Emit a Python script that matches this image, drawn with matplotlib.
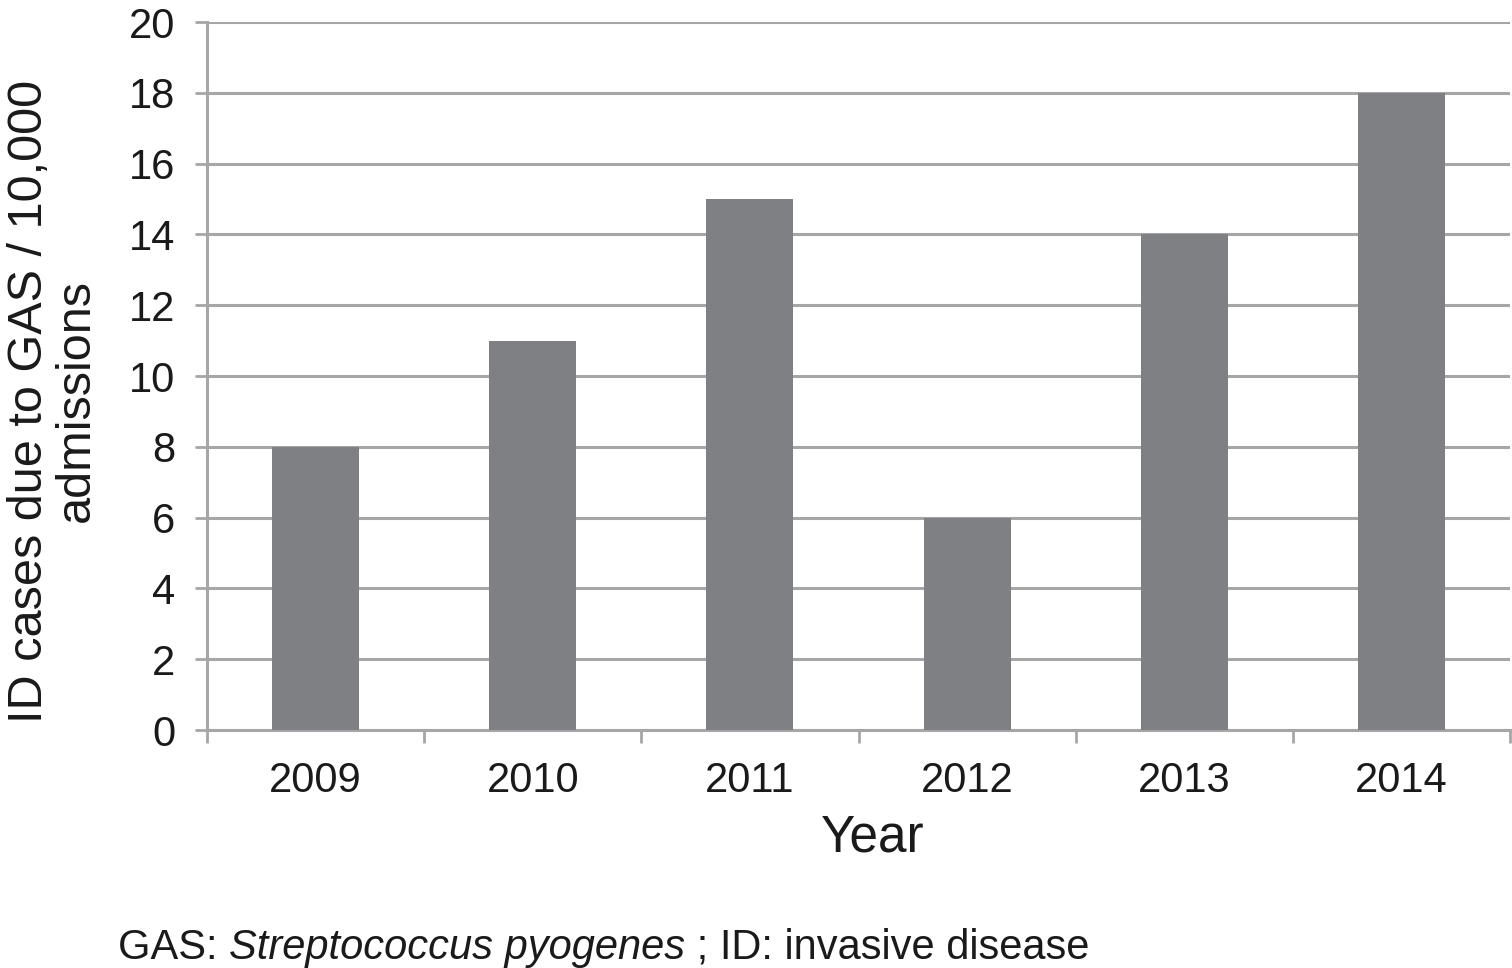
import matplotlib
matplotlib.use("Agg")
import matplotlib.pyplot as plt
import numpy as np

years = ["2009", "2010", "2011", "2012", "2013", "2014"]
values = [8, 11, 15, 6, 14, 18]
y_ticks = [0, 2, 4, 6, 8, 10, 12, 14, 16, 18, 20]

plt.rcParams['font.family'] = ['Liberation Sans', 'DejaVu Sans']

W, H = 1512, 968
fig = plt.figure(figsize=(W / 100, H / 100), dpi=100)
ax = fig.add_axes([207 / W, 1 - 730 / H, (1510 - 207) / W, (730 - 22) / H])

grid_c = '#a6a6a6'
bar_c = '#7f8084'
txt_c = '#1a1a1a'

x = np.arange(len(years)) + 0.5
ax.bar(x, values, width=0.4, color=bar_c, zorder=3)

ax.set_xlim(0, len(years))
ax.set_ylim(0, 20)
ax.set_yticks(y_ticks)
ax.set_yticklabels([str(v) for v in y_ticks])
ax.yaxis.grid(True, color=grid_c, linewidth=2.2, zorder=0)

ax.set_xticks(np.arange(len(years) + 1))
ax.set_xticklabels([])
ax.set_xticks(x, minor=True)
ax.set_xticklabels(years, minor=True)
ax.tick_params(axis='x', which='major', direction='out', length=9, width=2, color=grid_c)
ax.tick_params(axis='x', which='minor', length=0, pad=22, labelsize=30, labelcolor=txt_c)
ax.tick_params(axis='y', direction='out', length=9, width=2, color=grid_c, pad=14,
               labelsize=30, labelcolor=txt_c)

for s in ['top', 'right']:
    ax.spines[s].set_visible(False)
for s in ['left', 'bottom']:
    ax.spines[s].set_color(grid_c)
    ax.spines[s].set_linewidth(2.2)

fig.text(873 / W, 1 - 852 / H, "Year", ha='center', va='baseline', fontsize=37, color=txt_c)
fig.text(53 / W, 1 - 401 / H, "ID cases due to GAS / 10,000\nadmissions", rotation=90,
         ha='center', va='center', multialignment='center', fontsize=35,
         linespacing=1.05, color=txt_c)

# caption with italic part
fig.canvas.draw()
r = fig.canvas.get_renderer()
cx = 118 / W
cy = 1 - 959 / H
parts = [("GAS: ", 'normal'), ("Streptococcus pyogenes", 'italic'), (" ; ID: invasive disease", 'normal')]
for txt, st in parts:
    t = fig.text(cx, cy, txt, ha='left', va='baseline', fontsize=30, style=st, color=txt_c)
    bb = t.get_window_extent(renderer=r)
    cx = bb.x1 / W

fig.savefig("out.png", dpi=100)
